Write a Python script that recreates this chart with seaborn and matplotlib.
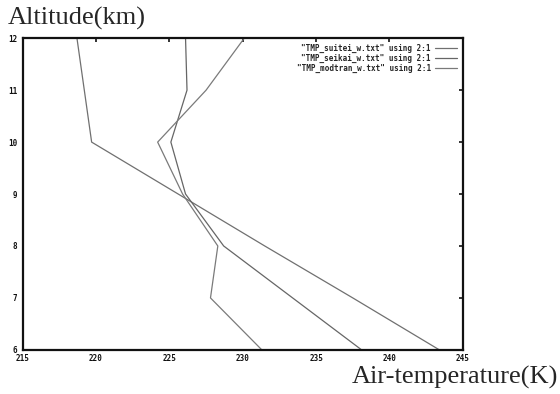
import pandas as pd
import numpy as np
import matplotlib
matplotlib.use('Agg')
import matplotlib.pyplot as plt
import seaborn as sns

# Altitude levels (km) and temperature profiles (K)
altitude = [12, 11, 10, 9, 8, 7, 6]
suitei = [218.7, 219.2, 219.7, 225.6, 231.5, 237.5, 243.4]
seikai = [226.1, 226.2, 225.1, 226.1, 228.7, 233.4, 238.1]
modtran = [230.1, 227.5, 224.2, 225.9, 228.3, 227.8, 231.3]

labels = ['"TMP_suitei_w.txt" using 2:1',
          '"TMP_seikai_w.txt" using 2:1',
          '"TMP_modtran_w.txt" using 2:1']
x_ticks = [215, 220, 225, 230, 235, 240, 245]
y_ticks = [6, 7, 8, 9, 10, 11, 12]

sns.set_style('white')

frames = []
for lab, vals in zip(labels, [suitei, seikai, modtran]):
    frames.append(pd.DataFrame({'temp': vals, 'alt': altitude, 'file': lab}))
df = pd.concat(frames, ignore_index=True)

fig = plt.figure(figsize=(5.6, 3.94), dpi=100)
ax = fig.add_axes([0.0405, 0.112, 0.786, 0.791])

sns.lineplot(data=df, x='temp', y='alt', hue='file', sort=False, estimator=None,
             palette=['#707070', '#666666', '#7a7a7a'], linewidth=0.9, ax=ax)

ax.set_xlim(215, 245)
ax.set_ylim(6, 12)
ax.set_xticks(x_ticks)
ax.set_yticks(y_ticks)
ax.set_xlabel('')
ax.set_ylabel('')
for s in ax.spines.values():
    s.set_color('#111111')
    s.set_linewidth(1.6)
ax.tick_params(direction='in', length=3, width=1.2, top=True, right=True,
               labelsize=5.5, colors='#111111')
ax.tick_params(axis='x', pad=3)
ax.tick_params(axis='y', pad=4)
for t in ax.get_xticklabels() + ax.get_yticklabels():
    t.set_fontweight('bold')
    t.set_family('DejaVu Sans Mono')

leg = ax.legend(loc='upper right', frameon=False, markerfirst=False,
                handlelength=3.0, handletextpad=0.5, labelspacing=0.15,
                borderaxespad=0.3,
                prop={'family': 'DejaVu Sans Mono', 'weight': 'bold', 'size': 5.5})

fig.text(0.013, 0.925, 'Altitude(km)', family='Liberation Serif', fontsize=19,
         ha='left', va='bottom')
fig.text(0.997, 0.012, 'Air-temperature(K)', family='Liberation Serif', fontsize=19,
         ha='right', va='bottom')

fig.savefig('out.png', dpi=100)
